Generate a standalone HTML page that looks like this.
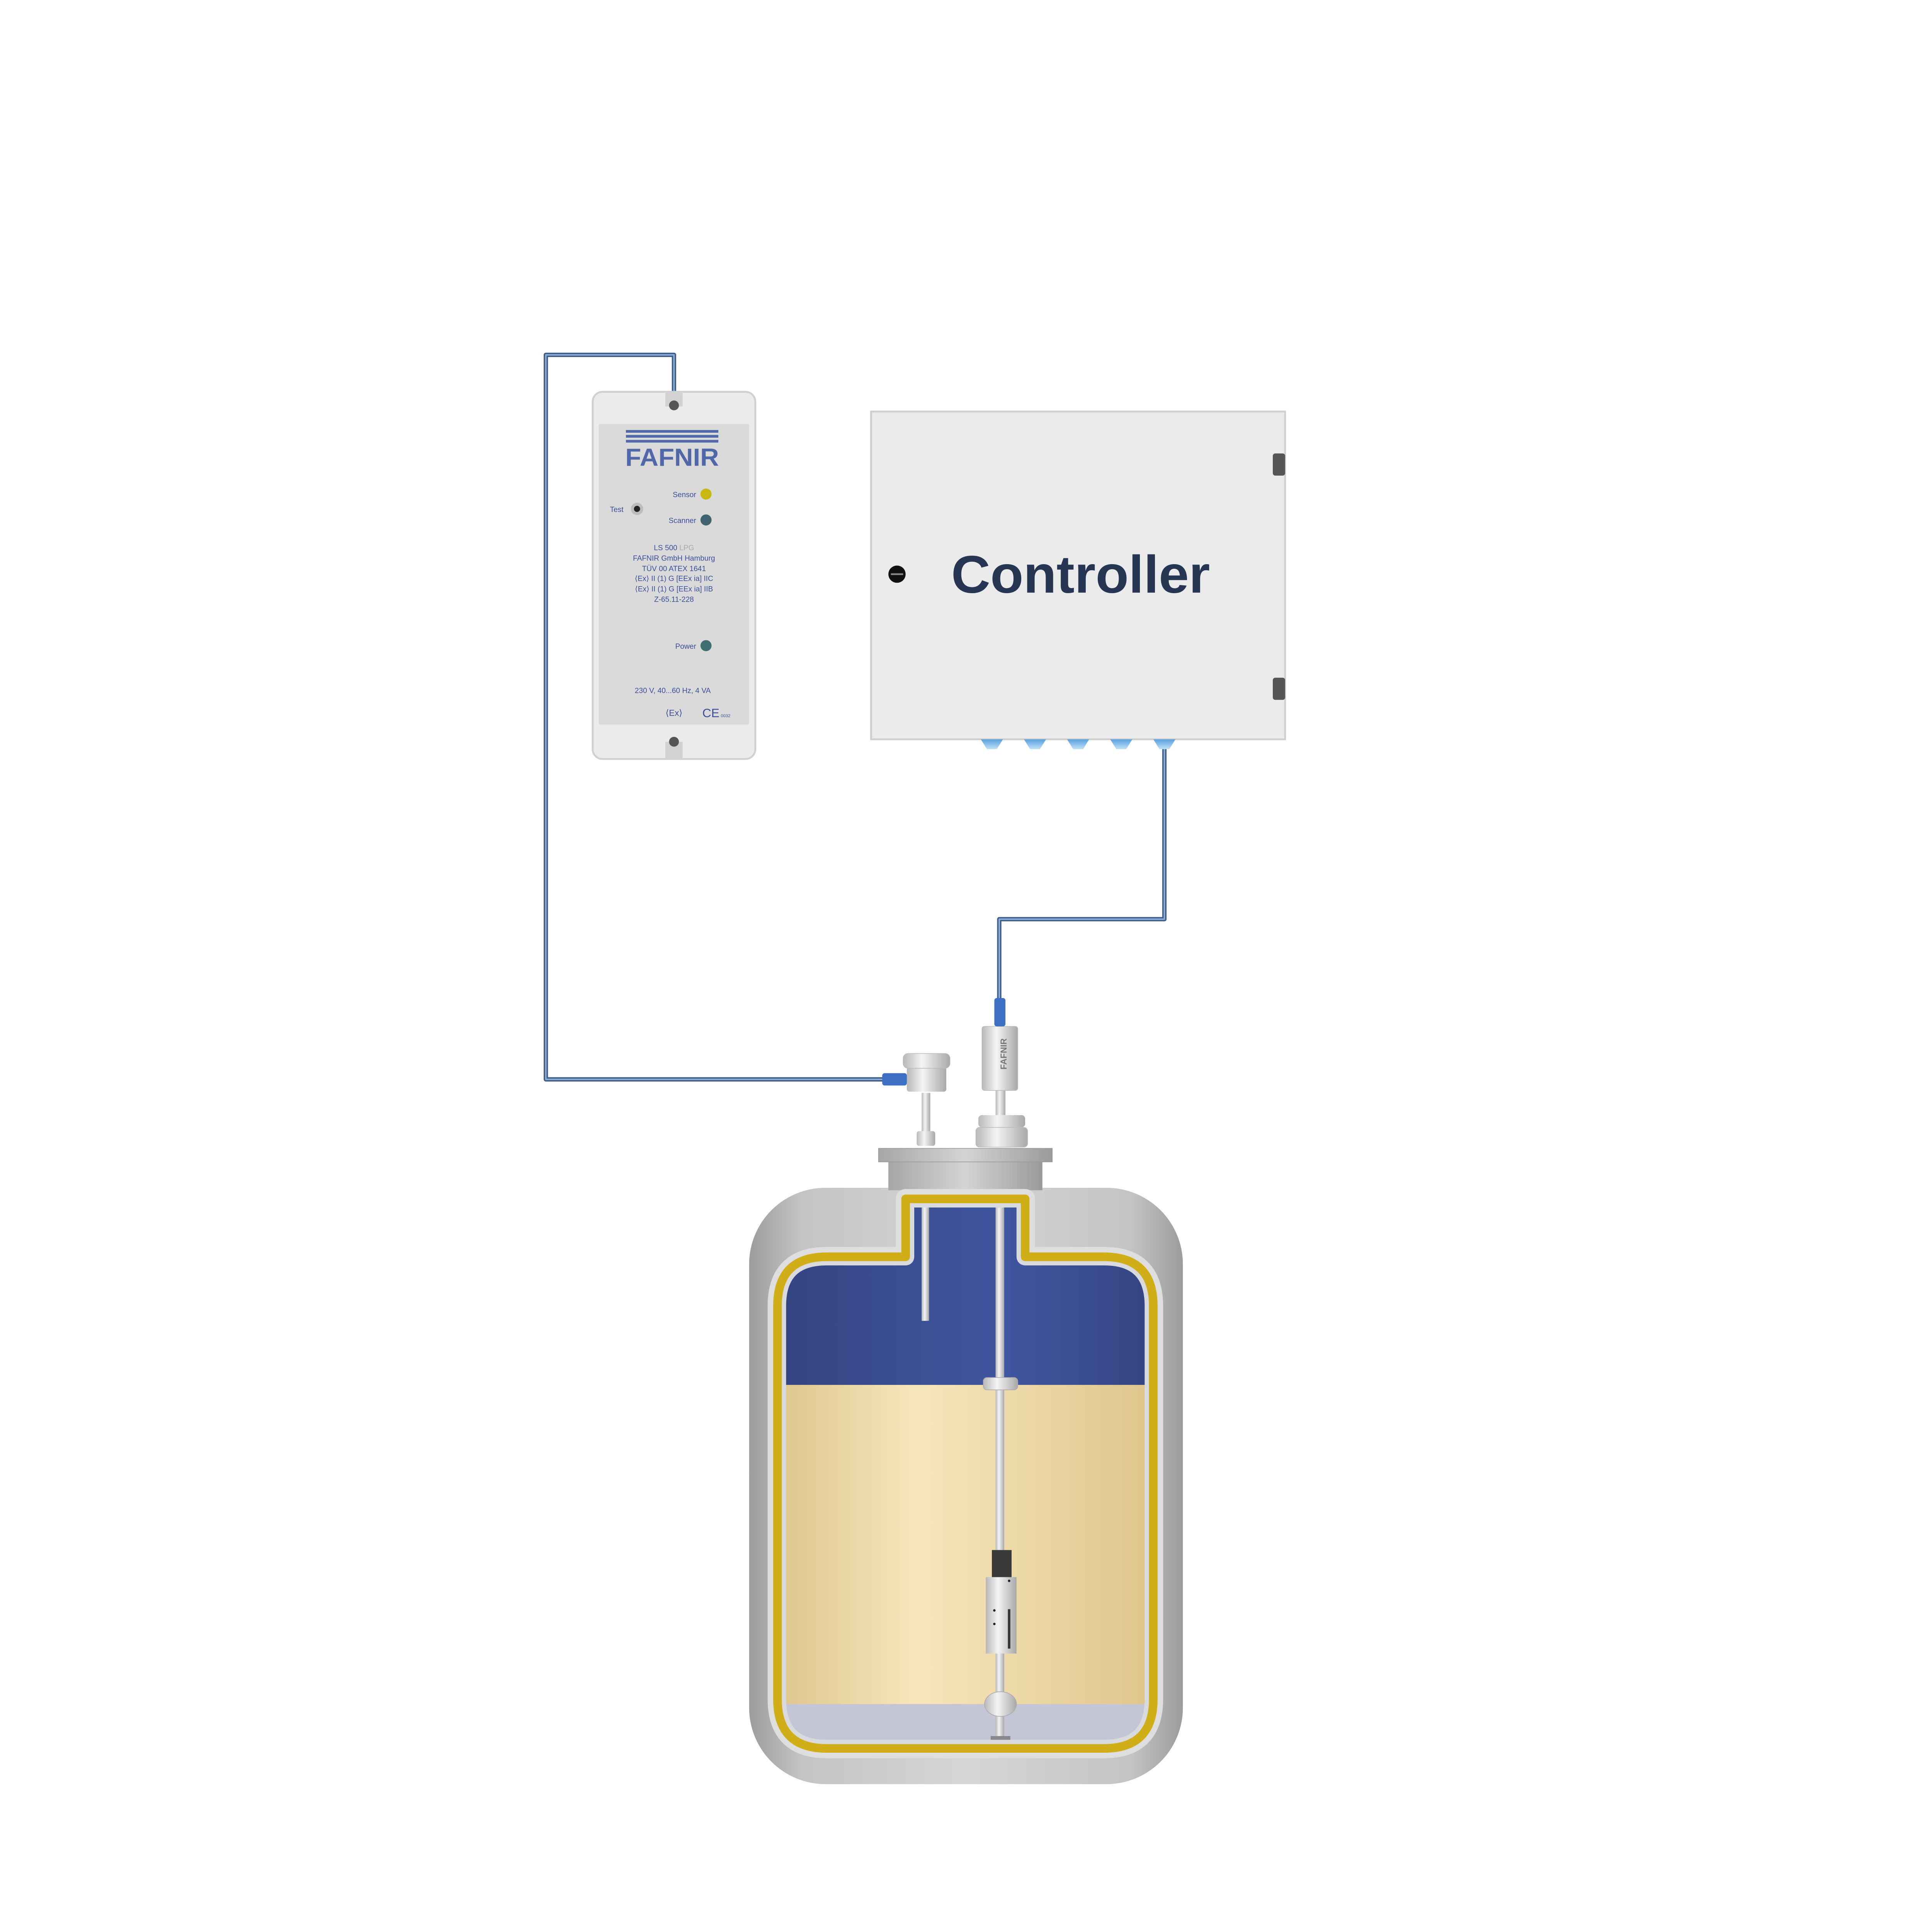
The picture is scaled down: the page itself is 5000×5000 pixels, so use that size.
<!DOCTYPE html>
<html><head><meta charset="utf-8"><style>html,body{margin:0;padding:0;background:#fff}svg{display:block}</style></head>
<body>
<svg width="5000" height="5000" viewBox="0 0 1568 1568" xmlns="http://www.w3.org/2000/svg" font-family="Liberation Sans, sans-serif">
<defs>
<linearGradient id="tank" x1="0" x2="1"><stop offset="0" stop-color="#9c9c9c"/><stop offset="0.12" stop-color="#c4c4c4"/><stop offset="0.5" stop-color="#d6d6d6"/><stop offset="0.88" stop-color="#c4c4c4"/><stop offset="1" stop-color="#9c9c9c"/></linearGradient>
<linearGradient id="blue" x1="0" x2="1"><stop offset="0" stop-color="#33417c"/><stop offset="0.6" stop-color="#3f56a0"/><stop offset="1" stop-color="#33417c"/></linearGradient>
<linearGradient id="cream" x1="0" x2="1"><stop offset="0" stop-color="#d7bd7e"/><stop offset="0.4" stop-color="#f7e6bd"/><stop offset="1" stop-color="#dcc184"/></linearGradient>
<linearGradient id="metal" x1="0" x2="1"><stop offset="0" stop-color="#b8b8b8"/><stop offset="0.4" stop-color="#f4f4f4"/><stop offset="1" stop-color="#a8a8a8"/></linearGradient>
<linearGradient id="flange" x1="0" x2="1"><stop offset="0" stop-color="#a6a6a6"/><stop offset="0.5" stop-color="#d4d4d4"/><stop offset="1" stop-color="#9a9a9a"/></linearGradient>
<linearGradient id="cone" x1="0" x2="0" y1="0" y2="1"><stop offset="0" stop-color="#5aa0e0"/><stop offset="1" stop-color="#bfe0f7"/></linearGradient>
<clipPath id="inner"><path d="M735 1020 L735 973 L832 973 L832 1020 L896 1020 Q936 1020 936 1060 L936 1379 Q936 1419 896 1419 L671 1419 Q631 1419 631 1379 L631 1060 Q631 1020 671 1020 Z"/></clipPath>
</defs>

<g fill="none" stroke-linejoin="round">
<path d="M547 320 L547 288 L443 288 L443 876 L722 876" stroke="#3f5d8a" stroke-width="3.5"/>
<path d="M547 320 L547 288 L443 288 L443 876 L722 876" stroke="#8fb0d6" stroke-width="1.2"/>
<path d="M945 607 L945 746 L811 746 L811 815" stroke="#3f5d8a" stroke-width="3.5"/>
<path d="M945 607 L945 746 L811 746 L811 815" stroke="#8fb0d6" stroke-width="1.2"/>
</g>

<rect x="481" y="318" width="132" height="298" rx="8" fill="#ebebeb" stroke="#d0d0d0" stroke-width="1.5"/>
<rect x="486" y="344" width="122" height="244" rx="1" fill="#dadada"/>
<rect x="540" y="318" width="14" height="12" fill="#d2d2d2"/><circle cx="547" cy="329" r="4" fill="#555"/>
<rect x="540" y="602" width="14" height="14" fill="#d2d2d2"/><circle cx="547" cy="602" r="4" fill="#555"/>
<g fill="#5068a8"><rect x="508" y="349" width="75" height="2.2"/><rect x="508" y="353" width="75" height="2.2"/><rect x="508" y="357" width="75" height="2.2"/></g>
<text x="545.5" y="378" font-size="20" font-weight="bold" fill="#5068a8" text-anchor="middle" textLength="76" lengthAdjust="spacingAndGlyphs">FAFNIR</text>
<g font-size="6" fill="#3a4f9a">
<text x="565" y="403.5" text-anchor="end">Sensor</text>
<text x="565" y="424.5" text-anchor="end">Scanner</text>
<text x="495" y="415.5">Test</text>
<text x="565" y="526.5" text-anchor="end">Power</text>
<text x="547" y="446.5" text-anchor="middle">LS 500 <tspan fill="#aaa">  LPG</tspan></text>
<text x="547" y="455" text-anchor="middle">FAFNIR GmbH Hamburg</text>
<text x="547" y="463.5" text-anchor="middle">TÜV 00 ATEX 1641</text>
<text x="547" y="471.5" text-anchor="middle">⟨Ex⟩ II (1) G [EEx ia] IIC</text>
<text x="547" y="480" text-anchor="middle">⟨Ex⟩ II (1) G [EEx ia] IIB</text>
<text x="547" y="488.5" text-anchor="middle">Z-65.11-228</text>
<text x="546" y="562.5" text-anchor="middle">230 V, 40...60 Hz, 4 VA</text>
<text x="547" y="581" text-anchor="middle" font-size="7">⟨Ex⟩</text>
<text x="570" y="582" font-size="10">CE</text><text x="585" y="582" font-size="3.5">0032</text>
</g>
<circle cx="573" cy="401" r="4.5" fill="#c9b80f"/>
<circle cx="573" cy="422" r="4.5" fill="#3f6470"/>
<circle cx="573" cy="524" r="4.5" fill="#3f6f72"/>
<circle cx="517" cy="413" r="5" fill="#bcbcbc"/><circle cx="517" cy="413" r="2.5" fill="#222"/>

<rect x="707" y="334" width="336" height="266" fill="#ebebeb" stroke="#cfcfcf" stroke-width="1.5"/>
<rect x="1033" y="368" width="10" height="18" rx="2" fill="#555"/>
<rect x="1033" y="550" width="10" height="18" rx="2" fill="#555"/>
<circle cx="728" cy="466" r="7" fill="#111"/><rect x="723" y="465.3" width="10" height="1.4" fill="#888"/>
<text x="877" y="481" font-size="43" font-weight="bold" fill="#263552" text-anchor="middle" textLength="210" lengthAdjust="spacingAndGlyphs">Controller</text>
<g fill="url(#cone)">
<path d="M796 600 L814 600 L809 608 L801 608 Z"/>
<path d="M831 600 L849 600 L844 608 L836 608 Z"/>
<path d="M866 600 L884 600 L879 608 L871 608 Z"/>
<path d="M901 600 L919 600 L914 608 L906 608 Z"/>
<path d="M936 600 L954 600 L949 608 L941 608 Z"/>
</g>

<rect x="608" y="964" width="352" height="484" rx="62" fill="url(#tank)"/>
<rect x="721" y="942" width="125" height="24" fill="url(#flange)"/>
<rect x="713" y="932" width="141" height="11" fill="url(#flange)" stroke="#999" stroke-width="0.5"/>

<path d="M735 1020 L735 973 L832 973 L832 1020 L896 1020 Q936 1020 936 1060 L936 1379 Q936 1419 896 1419 L671 1419 Q631 1419 631 1379 L631 1060 Q631 1020 671 1020 Z" fill="#ddd" stroke="#dedede" stroke-width="16" stroke-linejoin="round"/>
<g clip-path="url(#inner)">
<rect x="600" y="960" width="360" height="164" fill="url(#blue)"/>
<rect x="600" y="1124" width="360" height="259" fill="url(#cream)"/>
<rect x="600" y="1383" width="360" height="40" fill="#c4c6d6"/>
</g>
<path d="M735 1020 L735 973 L832 973 L832 1020 L896 1020 Q936 1020 936 1060 L936 1379 Q936 1419 896 1419 L671 1419 Q631 1419 631 1379 L631 1060 Q631 1020 671 1020 Z" fill="none" stroke="#d9dadd" stroke-width="14" stroke-linejoin="round" clip-path="url(#inner)"/>
<path d="M735 1020 L735 973 L832 973 L832 1020 L896 1020 Q936 1020 936 1060 L936 1379 Q936 1419 896 1419 L671 1419 Q631 1419 631 1379 L631 1060 Q631 1020 671 1020 Z" fill="none" stroke="#cfae17" stroke-width="7" stroke-linejoin="round"/>

<rect x="748" y="980" width="6" height="92" fill="url(#metal)"/>
<rect x="748" y="887" width="7" height="40" fill="url(#metal)"/>
<rect x="744" y="918" width="15" height="12" rx="2" fill="url(#metal)"/>
<rect x="736" y="866" width="32" height="20" rx="2" fill="url(#metal)"/>
<rect x="733" y="855" width="38" height="12" rx="4" fill="url(#metal)" stroke="#bbb" stroke-width="0.5"/>
<rect x="716" y="871" width="20" height="10" rx="2" fill="#3d6fc4"/>

<rect x="808" y="885" width="8" height="20" fill="url(#metal)"/>
<rect x="794" y="905" width="38" height="10" rx="3" fill="url(#metal)"/>
<rect x="792" y="915" width="42" height="16" rx="3" fill="url(#metal)" stroke="#bbb" stroke-width="0.5"/>
<rect x="797" y="833" width="29" height="52" rx="2" fill="url(#metal)" stroke="#bbb" stroke-width="0.5"/>
<text transform="translate(817,868) rotate(-90)" font-size="7" font-weight="bold" fill="#777">FAFNIR</text>
<rect x="807" y="810" width="9" height="23" rx="2" fill="#3d6fc4"/>
<rect x="808" y="980" width="7" height="432" fill="url(#metal)"/>
<rect x="798" y="1118" width="28" height="10" rx="3" fill="url(#metal)" stroke="#aaa" stroke-width="0.5"/>
<rect x="805" y="1258" width="16" height="22" fill="#3a3a3a"/>
<rect x="800" y="1280" width="25" height="62" fill="url(#metal)"/>
<circle cx="807" cy="1307" r="1" fill="#222"/><circle cx="807" cy="1318" r="1" fill="#222"/><circle cx="819" cy="1283" r="1" fill="#222"/>
<rect x="818" y="1306" width="2" height="32" fill="#333"/>
<ellipse cx="812" cy="1383" rx="13" ry="10" fill="url(#metal)" stroke="#aaa" stroke-width="0.5"/>
<rect x="804" y="1409" width="16" height="3" fill="#888"/>
</svg>
</body></html>
